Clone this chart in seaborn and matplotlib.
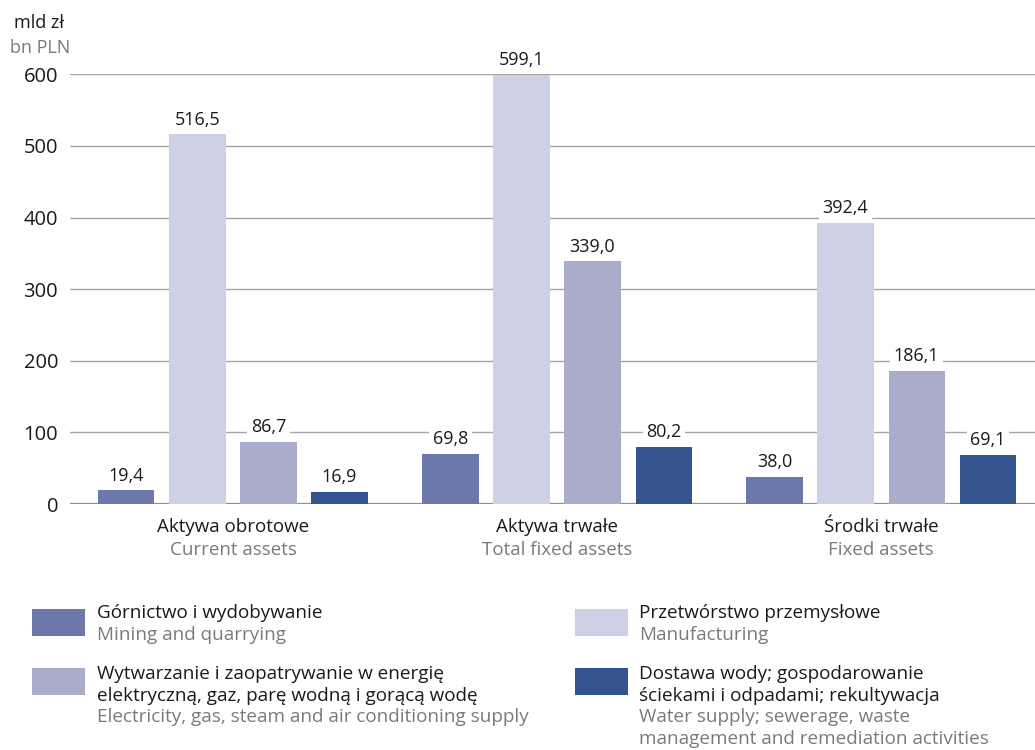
import matplotlib
matplotlib.use("Agg")
import matplotlib.pyplot as plt
import seaborn as sns
import pandas as pd
from matplotlib.patches import Rectangle

categories_pl = ["Aktywa obrotowe", "Aktywa trwałe", "Środki trwałe"]
categories_en = ["Current assets", "Total fixed assets", "Fixed assets"]
sections_pl = [
    "Górnictwo i wydobywanie",
    "Przetwórstwo przemysłowe",
    "Wytwarzanie i zaopatrywanie w energię\nelektryczną, gaz, parę wodną i gorącą wodę",
    "Dostawa wody; gospodarowanie\nściekami i odpadami; rekultywacja",
]
sections_en = [
    "Mining and quarrying",
    "Manufacturing",
    "Electricity, gas, steam and air conditioning supply",
    "Water supply; sewerage, waste\nmanagement and remediation activities",
]
mining = [19.4, 69.8, 38.0]
manufacturing = [516.5, 599.1, 392.4]
electricity = [86.7, 339.0, 186.1]
water = [16.9, 80.2, 69.1]
colors = ["#6b78a9", "#ced1e5", "#a9acca", "#34548e"]

rows = []
for sec, vals in zip(sections_pl, [mining, manufacturing, electricity, water]):
    for cat, v in zip(categories_pl, vals):
        rows.append({"kategoria": cat, "sekcja": sec, "wartosc": v})
df = pd.DataFrame(rows)

sns.set_style("white")
plt.rcParams["font.family"] = ["Open Sans", "DejaVu Sans"]
DARK = "#1a1a1a"
GREY = "#7a7a7a"

fig = plt.figure(figsize=(10.35, 7.5), dpi=100)
ax = fig.add_axes([0.0676, 0.328, 0.9324, 0.573])

sns.barplot(data=df, x="kategoria", y="wartosc", hue="sekcja", hue_order=sections_pl,
            order=categories_pl, palette=colors, width=0.877, gap=0.21,
            legend=False, ax=ax, saturation=1, linewidth=0, edgecolor="none")

ax.set_ylim(0, 600)
ax.set_xlim(-0.503, 2.475)
ax.set_yticks([0, 100, 200, 300, 400, 500, 600])
ax.yaxis.grid(True, color="#a6a6a6", linewidth=1.0)
ax.set_axisbelow(True)
ax.axhline(0, color="#8a8a8a", linewidth=1.6, zorder=0.5)
for s in ax.spines.values():
    s.set_visible(False)
ax.tick_params(axis="y", length=0, pad=8.5, labelsize=14.5, labelcolor=DARK)
ax.set_xticks([])
ax.set_xlabel("")
ax.set_ylabel("")

for cont in ax.containers:
    ax.bar_label(cont, labels=[f"{b.get_height():.1f}".replace(".", ",") for b in cont],
                 padding=4, fontsize=13, color=DARK,
                 bbox=dict(facecolor="white", edgecolor="none", pad=2.5))

for i, (pl, en) in enumerate(zip(categories_pl, categories_en)):
    ax.text(i, -19, pl, ha="center", va="top", fontsize=13.5, color=DARK)
    ax.text(i, -51, en, ha="center", va="top", fontsize=13.5, color=GREY)

fig.text(14 / 1035, 1 - 28 / 750, "mld zł", fontsize=13, color=DARK)
fig.text(10 / 1035, 1 - 53 / 750, "bn PLN", fontsize=13, color=GREY)

# legenda
W, H = 1035, 750
step = 21.7
legend_pos = [(32, 609, 97, 618), (575, 609, 639, 618), (32, 668, 97, 679), (575, 668, 639, 679)]
for (px, py, tx, ty), col, pl, en in zip(legend_pos, colors, sections_pl, sections_en):
    fig.patches.append(Rectangle((px / W, 1 - (py + 27) / H), 53 / W, 27 / H,
                                 transform=fig.transFigure, facecolor=col, edgecolor="none"))
    lines = [(t, DARK) for t in pl.split("\n")] + [(t, GREY) for t in en.split("\n")]
    for k, (t, c) in enumerate(lines):
        fig.text(tx / W, 1 - (ty + step * k) / H, t, fontsize=13.6, color=c, va="baseline")

fig.savefig("out.png", dpi=100)
